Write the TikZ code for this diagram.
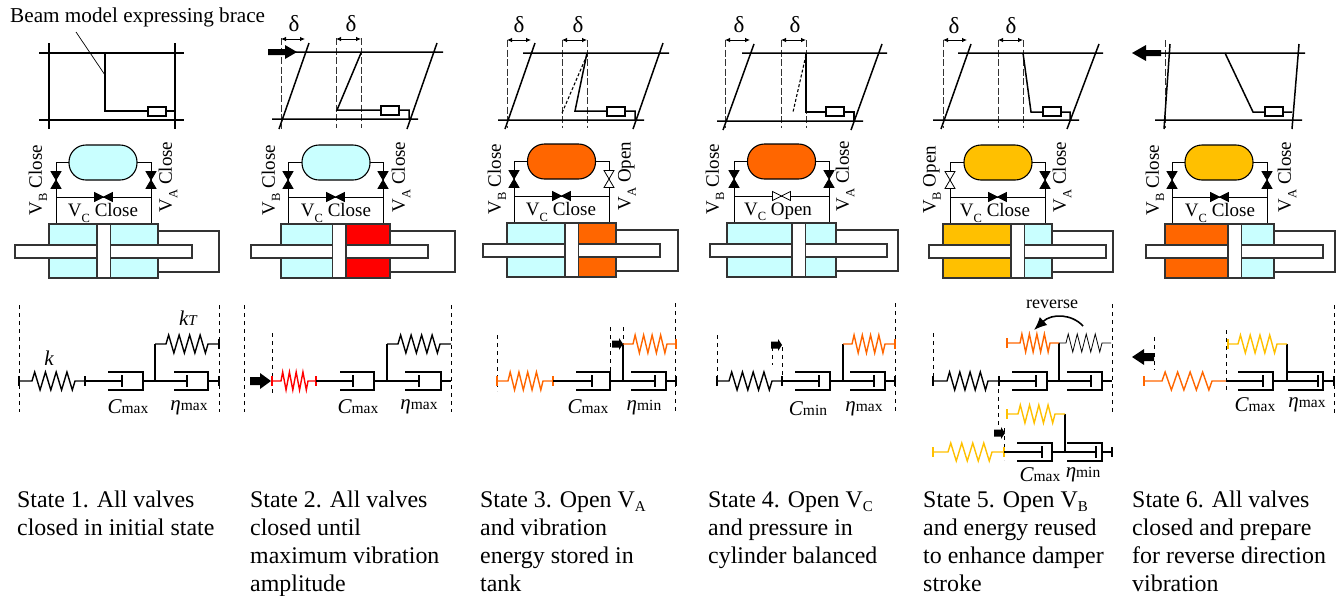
\documentclass[tikz,border=0pt]{standalone}
\usepackage{fontspec}
\setmainfont{Liberation Serif}
\usetikzlibrary{arrows.meta}
\definecolor{cy}{HTML}{C9FFFF}
\definecolor{rd}{HTML}{FF0000}
\definecolor{og}{HTML}{FF6600}
\definecolor{yl}{HTML}{FFC000}
\definecolor{gl}{HTML}{333333}
\newcount\nid
\tikzset{
 beam/.style={line width=1.5pt,black},
 frameline/.style={line width=1.5pt,black},
 gdash/.style={line width=.9pt,gl,dash pattern=on 7pt off 2.5pt},
 mdash/.style={line width=1pt,black,dash pattern=on 4pt off 4pt},
 mech/.style={line width=1.4pt,black,line join=miter},
 dimarrow/.style={line width=.8pt,{Latex[length=5pt,width=4.5pt]}-{Latex[length=5pt,width=4.5pt]}},
 hyd/.style={line width=1.1pt,gl},
 pipe/.style={line width=1pt,black},
}
\newcommand\txt[4][]{\global\advance\nid by 1 \node[inner sep=0pt,#1] (t\the\nid) at (#2,#3) {#4};}
\newcommand\vsmall{\fontsize{19}{20}\selectfont}
\newcommand\subt[1]{\raisebox{-.28em}{\fontsize{12.5}{12.5}\selectfont #1}}
\newcommand\subb[1]{\raisebox{-.2em}{\fontsize{15}{15}\selectfont #1}}
% block arrow: x tail, x head, x where the head starts, y, half shaft, half head
\newcommand\blk[6]{\fill (#1,#4-#5) -- (#3,#4-#5) -- (#3,#4-#6) -- (#2,#4) -- (#3,#4+#6) -- (#3,#4+#5) -- (#1,#4+#5) -- cycle;}
\newcommand\dimd[3]{\draw[dimarrow] (#1,#3) -- (#2,#3);}
\newcommand\deltal[2]{\txt{#1}{#2}{\fontsize{23}{23}\selectfont δ}}
% spring: start, zig start, zig end, end, y, style
\newcommand\spr[6]{\pgfmathsetmacro\dxs{(#3-#2)/8}
 \draw[mech,#6] (#1,#5) -- (#2,#5) -- ++(\dxs/2,-9) -- ++(\dxs,18) -- ++(\dxs,-18) -- ++(\dxs,18) -- ++(\dxs,-18) -- ++(\dxs,18) -- ++(\dxs,-18) -- ++(\dxs,18) -- (#3,#5) -- (#4,#5);}
\newcommand\tickm[3]{\draw[mech,#3] (#1,#2-5) -- (#1,#2+5);}
% U: left, right, piston, y, rod start
\newcommand\dmp[5]{\draw[mech] (#1,#4-9) -- (#2,#4-9) -- (#2,#4+9) -- (#1,#4+9);
 \draw[mech] (#3,#4-6) -- (#3,#4+6); \draw[mech] (#5,#4) -- (#3,#4);}
\newcommand\eqlab[4]{\txt{#1}{#2}{{\fontsize{21}{21}\selectfont\itshape #3}{\fontsize{15.5}{15.5}\selectfont #4}}}
% hydraulics: tank left, tank fill, pipe left, cyl left, piston left, rod left, loop right, left fill, right fill
\newcommand\hydr[9]{
 \pgfmathsetmacro\pR{#3+95}\pgfmathsetmacro\cR{#4+109}\pgfmathsetmacro\tR{#1+68}\pgfmathsetmacro\rR{#6+177}\pgfmathsetmacro\pisR{#5+13.5}
 \draw[pipe] (#1,162.5) -- (#3,162.5) -- (#3,224) (\tR,162.5) -- (\pR,162.5) -- (\pR,224) (#3,197) -- (\pR,197);
 \draw[line width=1.1pt,black,fill=#2,rounded corners=17pt] (#1,145) rectangle (\tR,180);
 \fill[#8] (#4,224) rectangle (#5,278); \fill[#9] (\pisR,224) rectangle (\cR,278);
 \draw[hyd] (#4,224) rectangle (\cR,278);
 \draw[hyd] (\cR,231) -- (#7,231) -- (#7,272) -- (\cR,272);
 \draw[hyd,fill=white] (#6,245) rectangle (\rR,258);
 \draw[hyd,fill=white] (#5,224) rectangle (\pisR,278);
}
\newcommand\vvalve[3]{\draw[line width=.8pt,black,fill=#3] (#1-5,#2-8.5) -- (#1+5,#2-8.5) -- (#1-5,#2+8.5) -- (#1+5,#2+8.5) -- cycle;}
\newcommand\hvalve[3]{\draw[line width=.8pt,black,fill=#3] (#1-9,#2-4.5) -- (#1+9,#2+4.5) -- (#1+9,#2-4.5) -- (#1-9,#2+4.5) -- cycle;}
\newcommand\valves[4]{\pgfmathsetmacro\pR{#1+95}\pgfmathsetmacro\pC{#1+47.5}
 \vvalve{#1}{180}{#2}\vvalve{\pR}{180}{#3}\hvalve{\pC}{197}{#4}}
\newcommand\vlabels[6]{% xB, B word, xA, A word, xC, C word
 \txt[rotate=90]{#1}{180}{\vsmall V\subt{B} #2}
 \txt[rotate=90]{#3}{177}{\vsmall V\subt{A} #4}
 \txt{#5}{213}{\vsmall V\subt{C} #6}}
\newcommand\state[3]{\txt[anchor=north west,align=left,font=\fontsize{23.9}{28}\selectfont]{#1}{#2}{#3}}
\begin{document}
\begin{tikzpicture}[x=1pt,y=-1pt]
\useasboundingbox (0,0) rectangle (1343,595);
% ---------- Panel 1
\draw[beam] (39,53) -- (184,53) (39,120) -- (184,120) (49,43) -- (49,129) (175,43) -- (175,129);
\draw[frameline] (105,53) -- (105,111) -- (175,111);
\draw[frameline,fill=white] (148,107) rectangle (166,116);
\txt[anchor=west]{10}{17}{\fontsize{21.2}{23}\selectfont Beam model expressing brace}
\draw[line width=.7pt] (76,32) -- (105,75);
% ---------- Panel 2
\draw[gdash] (281,38) -- (281,129) (336,38) -- (336,128) (361,38) -- (361,128);
\draw[beam] (270,52) -- (443,52) (272,119) -- (418,119) (309,43) -- (279,129) (437,43) -- (407,129);
\draw[frameline] (361,53) -- (337,110) -- (409,110) -- (409,119);
\draw[frameline,fill=white] (381,106) rectangle (399,115);
\blk{268}{297}{285}{52}{3}{7}
\dimd{281}{305}{39}\dimd{336}{361}{39}\deltal{294}{24}\deltal{351}{24}
% ---------- Panel 3
\draw[gdash] (507,40) -- (507,128) (562,40) -- (562,128) (587,40) -- (587,128);
\draw[beam] (523,53) -- (669,53) (498,120) -- (644,120) (535,43) -- (505,129) (663,43) -- (633,129);
\draw[frameline] (587,53) -- (575,111) -- (635,111) -- (635,120);
\draw[line width=1.1pt,dash pattern=on 3pt off 2pt] (587,55) -- (562,113);
\draw[frameline,fill=white] (607,107) rectangle (625,116);
\dimd{507}{531}{40}\dimd{562}{587}{40}\deltal{519}{25}\deltal{578}{25}
% ---------- Panel 4
\draw[gdash] (725,40) -- (725,128) (781,40) -- (781,128) (806,40) -- (806,128);
\draw[beam] (742,53) -- (887,53) (717,121) -- (863,121) (754,44) -- (723,130) (882,44) -- (851,130);
\draw[frameline] (806,53) -- (806,112) -- (854,112) -- (854,121);
\draw[line width=1.1pt,dash pattern=on 3pt off 2pt] (806,55) -- (793,112);
\draw[frameline,fill=white] (826,107) rectangle (844,116);
\dimd{725}{750}{40}\dimd{781}{806}{40}\deltal{739}{25}\deltal{795}{25}
% ---------- Panel 5
\draw[gdash] (943,40) -- (943,128) (998,40) -- (998,128) (1023,40) -- (1023,128);
\draw[beam] (958,53) -- (1103,53) (933,120) -- (1079,120) (971,44) -- (941,129) (1099,44) -- (1067,129);
\draw[frameline] (1023,53) -- (1031,112) -- (1070,112) -- (1070,120);
\draw[frameline,fill=white] (1043,107) rectangle (1061,116);
\dimd{943}{967}{40}\dimd{998}{1023}{40}\deltal{954}{26}\deltal{1011}{26}
% ---------- Panel 6
\draw[gdash] (1165,40) -- (1165,128);
\draw[beam] (1160,53) -- (1305,53) (1155,120) -- (1302,120) (1170,44) -- (1164,129) (1299,44) -- (1292,129);
\draw[frameline] (1225,53) -- (1253,112) -- (1292,112);
\draw[frameline,fill=white] (1265,107) rectangle (1283,116);
\blk{1161}{1132}{1146}{53}{3}{8}
% ---------- Hydraulics
\hydr{69}{cy}{56}{49}{97}{15}{219}{cy}{cy}
\valves{56}{black}{black}{black}\vlabels{38}{Close}{168}{Close}{103}{Close}
\hydr{302}{cy}{288}{281}{332.5}{251}{455}{cy}{rd}
\valves{288}{black}{black}{black}\vlabels{271}{Close}{401}{Close}{336}{Close}
\begin{scope}[yshift=1pt]
\hydr{527.5}{og}{514}{507}{565}{483}{678}{cy}{og}
\valves{514}{black}{white}{black}\vlabels{497}{Close}{627}{Open}{561}{Close}
\hydr{747.5}{og}{734}{727}{792}{710}{898}{cy}{cy}
\valves{734}{black}{black}{white}\vlabels{715}{Close}{845}{Close}{778}{Open}
\end{scope}
\hydr{964}{yl}{950}{943}{1011}{929}{1113}{yl}{cy}
\valves{950}{white}{black}{black}\vlabels{932}{Open}{1062}{Close}{995}{Close}
\hydr{1185}{yl}{1172}{1165}{1228}{1146}{1335}{og}{cy}
\valves{1172}{black}{black}{black}\vlabels{1155}{Close}{1287}{Close}{1220}{Close}
% ---------- Mechanical models: panel 1
\draw[mdash] (19,305) -- (19,412) (219,305) -- (219,412);
\spr{19}{32}{75}{85}{381}{}\tickm{19}{381}{}\tickm{85}{381}{}
\dmp{108}{143}{122}{381}{85}\dmp{174}{208}{187}{381}{143}
\draw[mech] (208,381) -- (219,381) (155,381) -- (155,344);
\spr{155}{166}{208}{219}{344}{}\tickm{219}{381}{}\tickm{219}{344}{}
\txt{49}{358}{\fontsize{21}{21}\selectfont\itshape k}
\txt{188}{318}{{\fontsize{21}{21}\selectfont\itshape k}{\fontsize{15}{15}\selectfont\itshape T}}
\eqlab{128}{407}{C}{max}\eqlab{189}{408}{η}{max}
% panel 2
\draw[mdash] (244,305) -- (244,412) (272,333) -- (272,395);
\spr{272}{281}{308}{316}{381}{rd}\tickm{272}{381}{rd}\tickm{316}{381}{rd}
\dmp{340}{374}{353}{381}{316}\dmp{405}{441}{419}{381}{374}
\draw[mech] (441,381) -- (451,381) (387,381) -- (387,344);
\spr{387}{398}{440}{451}{344}{}
\draw[mdash] (451,305) -- (451,412);
\blk{250}{271}{260}{381}{4}{8}
\eqlab{358}{407}{C}{max}\eqlab{419}{407}{η}{max}
% panel 3
\draw[mdash] (497,335) -- (497,391) (610,327) -- (610,381) (623,327) -- (623,344) (675.5,303) -- (675.5,411);
\spr{497}{508}{543}{553}{381}{og}\tickm{497}{381}{og}\tickm{553}{381}{og}
\dmp{576}{610}{592}{381}{553}\dmp{631}{666}{655}{381}{610}
\draw[mech] (666,381) -- (676,381) (623,381) -- (623,344);
\spr{623}{633}{667}{676}{344}{og}\tickm{676}{344}{og}\tickm{676}{381}{}
\blk{612}{623}{619}{344}{3.5}{6}
\eqlab{588}{407}{C}{max}\eqlab{644}{408}{η}{min}
% panel 4
\draw[mdash] (717,335) -- (717,381) (772,347) -- (772,365) (782,347) -- (782,381) (895,303) -- (895,412);
\spr{717}{729}{772}{782}{381}{}\tickm{717}{381}{}\tickm{782}{381}{}
\dmp{795}{830}{819}{381}{782}\dmp{850}{885}{874}{381}{830}
\draw[mech] (885,381) -- (895,381) (843,381) -- (843,344);
\spr{843}{852}{885}{895}{344}{og}\tickm{895}{344}{og}\tickm{895}{381}{}
\blk{771}{782}{778}{345}{3.5}{6}
\eqlab{808}{409}{C}{min}\eqlab{864}{409}{η}{max}
% panel 5
\draw[mdash] (933,333) -- (933,381) (1112,304) -- (1112,412) (998.5,381) -- (998.5,428) (1004,428) -- (1004,460);
\spr{933}{947}{988}{999}{381}{}\tickm{933}{381}{}\tickm{999}{381}{}
\dmp{1012}{1047}{1036}{381}{999}\dmp{1067}{1102}{1091}{381}{1047}
\draw[mech] (1102,381) -- (1112,381) (1059,381) -- (1059,343);
\spr{1007}{1020}{1050}{1059}{343}{og}\tickm{1007}{343}{og}
\spr{1059}{1066}{1102}{1111}{343}{line width=.8pt}
\coordinate (revA) at (1083,326); \coordinate (revB) at (1034,330);
\draw[line width=1.6pt,-{Latex[length=13pt,width=11pt]}] (revA) .. controls (1072,314) and (1052,313) .. (revB);
\txt{1052}{304}{\fontsize{18}{20}\selectfont reverse}
\blk{994}{1005}{1001}{433}{3.5}{6}
\spr{933}{948}{992}{1004}{452}{yl}\tickm{933}{452}{yl}\tickm{1004}{452}{yl}
\dmp{1017}{1052}{1042}{452}{1004}\dmp{1067}{1102}{1096}{452}{1052}
\draw[mech] (1102,452) -- (1112,452) (1065,452) -- (1065,414);\tickm{1112}{452}{}
\spr{1007}{1018}{1055}{1065}{414}{yl}\tickm{1007}{414}{yl}
\eqlab{1040}{475}{C}{max}\eqlab{1083}{475}{η}{min}
% panel 6
\draw[mdash] (1154,337) -- (1154,370) (1226,330) -- (1226,390) (1334,305) -- (1334,413);
\spr{1144}{1162}{1212}{1226}{381}{og}\tickm{1144}{381}{og}
\dmp{1238}{1273}{1263}{381}{1226}\dmp{1288}{1323}{1318}{381}{1273}
\draw[mech] (1323,381) -- (1334,381) (1287,381) -- (1287,344);\tickm{1334}{381}{}
\spr{1228}{1238}{1277}{1287}{344}{yl}\tickm{1228}{344}{yl}
\blk{1154}{1132}{1144}{357}{4}{8}
\eqlab{1255}{405}{C}{max}\eqlab{1307}{405}{η}{max}
% ---------- State captions
\state{17}{491}{State 1. All valves\\closed in initial state}
\state{250}{491}{State 2. All valves\\closed until\\maximum vibration\\amplitude}
\state{480}{491}{State 3. Open V\subb{A}\\and vibration\\energy stored in\\tank}
\state{708}{491}{State 4. Open V\subb{C}\\and pressure in\\cylinder balanced}
\state{923}{491}{State 5. Open V\subb{B}\\and energy reused\\to enhance damper\\stroke}
\state{1132}{491}{State 6. All valves\\closed and prepare\\for reverse direction\\vibration}
\end{tikzpicture}
\end{document}
